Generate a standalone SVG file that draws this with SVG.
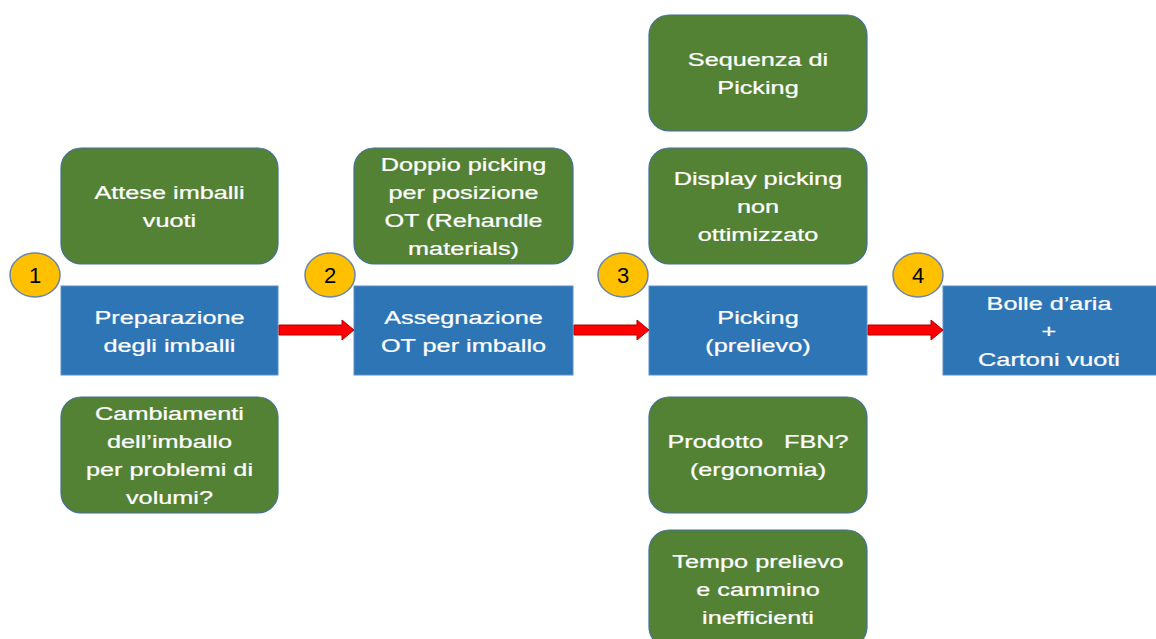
<svg xmlns="http://www.w3.org/2000/svg" width="1156" height="639" viewBox="0 0 1156 639">
  <style>
    .issue { fill: #548235; stroke: #41719C; stroke-width: 1.2; }
    .step { fill: #2E75B6; stroke: #5B8FC8; stroke-width: 1; }
    .badge { fill: #FFC000; stroke: #6A86A8; stroke-width: 1.5; }
    .lbl { font-family: "Liberation Sans", Arial, sans-serif; font-size: 19px; fill: #FFFFFF; stroke: #FFFFFF; stroke-width: 0.25; text-anchor: middle; white-space: pre; }
    .num { font-family: "Liberation Sans", Arial, sans-serif; font-size: 22px; fill: #000000; text-anchor: middle; }
    .flow { fill: #FF0000; stroke: #B00000; stroke-width: 1; }
  </style>

  <!-- process steps -->
  <g id="step1">
    <rect class="step" x="61" y="286" width="217" height="89"/>
    <g transform="translate(169.5,0) scale(1.33,1)">
      <text class="lbl" x="0" y="324">Preparazione</text>
      <text class="lbl" x="0" y="352">degli imballi</text>
    </g>
  </g>
  <g id="step2">
    <rect class="step" x="354" y="286" width="219" height="89"/>
    <g transform="translate(463.5,0) scale(1.33,1)">
      <text class="lbl" x="0" y="324">Assegnazione</text>
      <text class="lbl" x="0" y="352">OT per imballo</text>
    </g>
  </g>
  <g id="step3">
    <rect class="step" x="649" y="286" width="218" height="89"/>
    <g transform="translate(758,0) scale(1.33,1)">
      <text class="lbl" x="0" y="324">Picking</text>
      <text class="lbl" x="0" y="352">(prelievo)</text>
    </g>
  </g>
  <g id="step4">
    <rect class="step" x="943" y="286" width="220" height="89"/>
    <g transform="translate(1049,0) scale(1.33,1)">
      <text class="lbl" x="0" y="310">Bolle d’aria</text>
      <text class="lbl" x="0" y="338">+</text>
      <text class="lbl" x="0" y="366">Cartoni vuoti</text>
    </g>
  </g>

  <!-- step numbers -->
  <g id="badge1">
    <ellipse class="badge" cx="35" cy="275" rx="25" ry="22"/>
    <text class="num" x="35" y="283">1</text>
  </g>
  <g id="badge2">
    <ellipse class="badge" cx="330" cy="275" rx="25" ry="22"/>
    <text class="num" x="330" y="283">2</text>
  </g>
  <g id="badge3">
    <ellipse class="badge" cx="623" cy="275" rx="25" ry="22"/>
    <text class="num" x="623" y="283">3</text>
  </g>
  <g id="badge4">
    <ellipse class="badge" cx="918" cy="275" rx="25" ry="22"/>
    <text class="num" x="918" y="283">4</text>
  </g>

  <!-- issues per step -->
  <g id="attese">
    <rect class="issue" x="61" y="148" width="217" height="116" rx="20"/>
    <g transform="translate(169.5,0) scale(1.33,1)">
      <text class="lbl" x="0" y="199">Attese imballi</text>
      <text class="lbl" x="0" y="227">vuoti</text>
    </g>
  </g>
  <g id="cambiamenti">
    <rect class="issue" x="61" y="397" width="217" height="116" rx="20"/>
    <g transform="translate(169.5,0) scale(1.33,1)">
      <text class="lbl" x="0" y="420">Cambiamenti</text>
      <text class="lbl" x="0" y="448">dell’imballo</text>
      <text class="lbl" x="0" y="476">per problemi di</text>
      <text class="lbl" x="0" y="504">volumi?</text>
    </g>
  </g>
  <g id="doppio">
    <rect class="issue" x="354" y="148" width="219" height="116" rx="20"/>
    <g transform="translate(463.5,0) scale(1.33,1)">
      <text class="lbl" x="0" y="171">Doppio picking</text>
      <text class="lbl" x="0" y="199">per posizione</text>
      <text class="lbl" x="0" y="227">OT (Rehandle</text>
      <text class="lbl" x="0" y="255">materials)</text>
    </g>
  </g>
  <g id="sequenza">
    <rect class="issue" x="649" y="15" width="218" height="116" rx="20"/>
    <g transform="translate(758,0) scale(1.33,1)">
      <text class="lbl" x="0" y="66">Sequenza di</text>
      <text class="lbl" x="0" y="94">Picking</text>
    </g>
  </g>
  <g id="display">
    <rect class="issue" x="649" y="148" width="218" height="116" rx="20"/>
    <g transform="translate(758,0) scale(1.33,1)">
      <text class="lbl" x="0" y="185">Display picking</text>
      <text class="lbl" x="0" y="213">non</text>
      <text class="lbl" x="0" y="241">ottimizzato</text>
    </g>
  </g>
  <g id="prodotto">
    <rect class="issue" x="649" y="397" width="218" height="116" rx="20"/>
    <g transform="translate(758,0) scale(1.33,1)">
      <text class="lbl" x="0" y="448">Prodotto   FBN?</text>
      <text class="lbl" x="0" y="476">(ergonomia)</text>
    </g>
  </g>
  <g id="tempo">
    <rect class="issue" x="649" y="530" width="218" height="117" rx="20"/>
    <g transform="translate(758,0) scale(1.33,1)">
      <text class="lbl" x="0" y="568">Tempo prelievo</text>
      <text class="lbl" x="0" y="596">e cammino</text>
      <text class="lbl" x="0" y="624">inefficienti</text>
    </g>
  </g>

  <!-- flow arrows between steps -->
  <g id="connectors">
    <polygon class="flow" points="279,325 342,325 342,320 354,330 342,340 342,335 279,335"/>
    <polygon class="flow" points="574,325 637,325 637,320 649,330 637,340 637,335 574,335"/>
    <polygon class="flow" points="868,325 931,325 931,320 943,330 931,340 931,335 868,335"/>
  </g>
</svg>
